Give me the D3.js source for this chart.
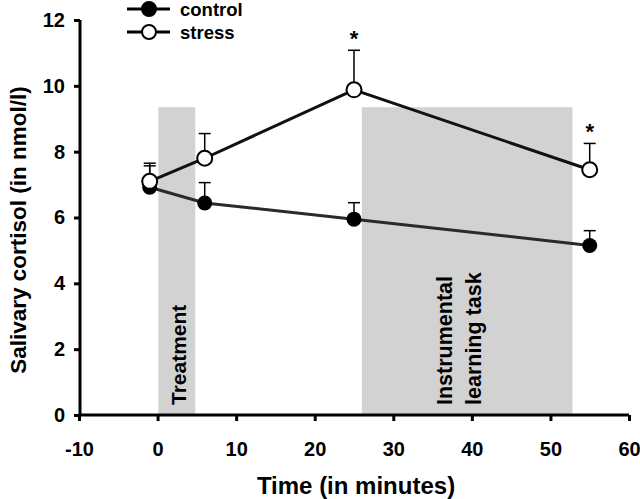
<!DOCTYPE html>
<html><head><meta charset="utf-8">
<script src="https://cdn.jsdelivr.net/npm/d3@7"></script>
<style>body{margin:0;background:#fff}text{font-family:"Liberation Sans",Arial,sans-serif;font-weight:bold;fill:#000}</style>
</head><body><svg id="c" width="640" height="499"></svg>
<script>
const times = [-1, 6, 25, 55];
const controlMean = [6.92, 6.44, 5.95, 5.15];
const controlErr = [0.65, 0.62, 0.5, 0.45];
const stressMean = [7.1, 7.8, 9.88, 7.45];
const stressErr = [0.55, 0.75, 1.2, 0.8];
const xTicks = [-10, 0, 10, 20, 30, 40, 50, 60];
const yTicks = [0, 2, 4, 6, 8, 10, 12];
const phases = [{label:["Treatment"], start:0.1, end:4.8, top:9.35},
                {label:["Instrumental","learning task"], start:26, end:52.8, top:9.35}];
const signif = [25, 55];

const svg = d3.select("#c");
const x = d3.scaleLinear().domain([-10, 60]).range([79, 629]);
const y = d3.scaleLinear().domain([0, 12]).range([415, 20]);

// phases
phases.forEach(p => {
  svg.append("rect").attr("x", x(p.start)).attr("y", y(p.top))
    .attr("width", x(p.end) - x(p.start)).attr("height", y(0) - y(p.top))
    .attr("fill", "#d2d2d2");
});
// phase labels (bottom-anchored, rotated)
svg.append("text").attr("transform", `translate(186,405) rotate(-90)`)
  .attr("text-anchor","start").style("font-size","21px").text(phases[0].label[0]);
[452, 481].forEach((bx,i) => {
  svg.append("text").attr("transform", `translate(${bx},405) rotate(-90)`)
    .attr("text-anchor","start").style("font-size","21.5px").text(phases[1].label[i]);
});

// axes
const ya = svg.append("g").attr("transform","translate(80,0)")
  .call(d3.axisLeft(y).tickValues(yTicks).tickFormat(d => String(d)).tickSize(6).tickPadding(9));
const xa = svg.append("g").attr("transform","translate(0,415)")
  .call(d3.axisBottom(x).tickValues(xTicks).tickFormat(d => String(d)).tickSize(6).tickPadding(21));
[ya, xa].forEach(g => {
  g.attr("font-size", null).attr("font-family", null);
  g.select(".domain").attr("stroke","#000").attr("stroke-width",3);
  g.selectAll(".tick line").attr("stroke","#000").attr("stroke-width",3);
  g.selectAll(".tick text").style("font-size","20px").style("font-family","Liberation Sans, Arial, sans-serif").style("font-weight","bold").attr("fill","#000");
});
xa.select(".domain").attr("d", `M${x(-10)},0H${x(60)}`);
ya.select(".domain").attr("d", `M0,${y(12)}V${y(0)}`);

svg.append("text").attr("x", 356).attr("y", 494).attr("text-anchor","middle")
  .style("font-size","24px").text("Time (in minutes)");
svg.append("text").attr("transform","translate(26,230) rotate(-90)").attr("text-anchor","middle")
  .style("font-size","22.5px").text("Salivary cortisol (in nmol/l)");

// error bars
function errBars(means, errs) {
  times.forEach((t,i) => {
    const cx = x(t), top = y(means[i] + errs[i]);
    svg.append("line").attr("x1",cx).attr("x2",cx).attr("y1",y(means[i])).attr("y2",top)
      .attr("stroke","#000").attr("stroke-width",1.5);
    svg.append("line").attr("x1",cx-6).attr("x2",cx+6).attr("y1",top).attr("y2",top)
      .attr("stroke","#000").attr("stroke-width",1.5);
  });
}
errBars(controlMean, controlErr);
errBars(stressMean, stressErr);

const line = d3.line().x((d,i)=>x(times[i])).y(d=>y(d));
svg.append("path").datum(controlMean).attr("d", line).attr("fill","none").attr("stroke","#2a2a2a").attr("stroke-width",3);
svg.append("path").datum(stressMean).attr("d", line).attr("fill","none").attr("stroke","#111").attr("stroke-width",3);

svg.selectAll(".cm").data(controlMean).join("circle").attr("cx",(d,i)=>x(times[i])).attr("cy",d=>y(d))
  .attr("r",7.5).attr("fill","#000");
svg.selectAll(".sm").data(stressMean).join("circle").attr("cx",(d,i)=>x(times[i])).attr("cy",d=>y(d))
  .attr("r",7.5).attr("fill","#fff").attr("stroke","#000").attr("stroke-width",2);

// significance
signif.forEach(t => {
  const i = times.indexOf(t);
  svg.append("text").attr("x", x(t)).attr("y", y(stressMean[i]+stressErr[i]) - 4)
    .attr("text-anchor","middle").style("font-size","22px").style("font-weight","bold").text("*");
});

// legend
const leg = [{name:"control", fill:"#000", y:9}, {name:"stress", fill:"#fff", y:32}];
leg.forEach(l => {
  svg.append("line").attr("x1",127).attr("x2",170).attr("y1",l.y).attr("y2",l.y).attr("stroke","#000").attr("stroke-width",3);
  svg.append("circle").attr("cx",149).attr("cy",l.y).attr("r",7).attr("fill",l.fill).attr("stroke","#000").attr("stroke-width",2);
  svg.append("text").attr("x",180).attr("y",l.y+7).style("font-size","18.5px").text(l.name);
});
</script></body></html>
